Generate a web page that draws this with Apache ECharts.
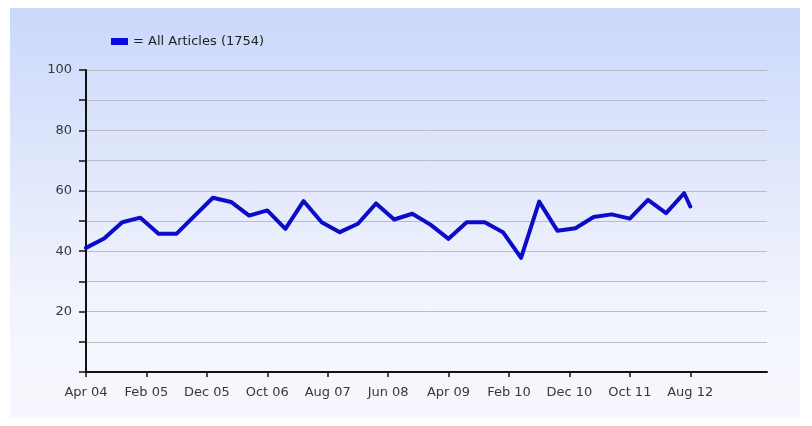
<!DOCTYPE html>
<html>
<head>
<meta charset="utf-8">
<script src="https://cdn.jsdelivr.net/npm/echarts@6/dist/echarts.min.js"></script>
<style>
    html, body { margin: 0; padding: 0; background: #fff; }
    #panel {
        position: absolute; left: 10px; top: 8px; width: 790px; height: 410px;
        background: linear-gradient(#cad8fb 0%, #e4eafc 45%, #f3f5fd 75%, #f7f8fe 100%);
    }
    #chart { position: absolute; left: 0; top: 0; width: 812px; height: 426px; }
</style>
</head>
<body>
<div id="panel"></div>
<div id="chart"></div>
<script>
// quarterly points (last one is a partial period)
const pointDates = ['2004-04','2004-07','2004-10','2005-01','2005-04','2005-07','2005-10','2006-01','2006-04',
    '2006-07','2006-10','2007-01','2007-04','2007-07','2007-10','2008-01','2008-04','2008-07','2008-10',
    '2009-01','2009-04','2009-07','2009-10','2010-01','2010-04','2010-07','2010-10','2011-01','2011-04',
    '2011-07','2011-10','2012-01','2012-04','2012-07','2012-08']
const articleValues = [41.1,44.2,49.6,51.1,45.8,45.8,51.8,57.7,56.3,51.8,53.5,47.4,56.6,49.6,46.3,49.1,55.8,
    50.5,52.4,48.8,44.1,49.6,49.6,46.3,37.8,56.4,46.8,47.6,51.3,52.2,50.8,57.0,52.6,59.2,54.8]

const tickLabels = ['Apr 04','Feb 05','Dec 05','Oct 06','Aug 07','Jun 08','Apr 09','Feb 10','Dec 10','Oct 11','Aug 12']
const tickDates = ['2004-04','2005-02','2005-12','2006-10','2007-08','2008-06','2009-04','2010-02','2010-12','2011-10','2012-08']

const seriesName = 'All Articles (1754)'

// months since Apr 2004
function monthIndex(s){
    var p = s.split('-')
    return (parseInt(p[0]) - 2004) * 12 + (parseInt(p[1]) - 4)
}

const tickMonths = tickDates.map(monthIndex)
const lineData = pointDates.map(function(d, i){ return [monthIndex(d), articleValues[i]] })

const font = 'DejaVu Sans'

var option = {
    backgroundColor: 'transparent',
    animation: false,
    legend: {
        left: 106,
        top: 30,
        icon: 'rect',
        itemWidth: 17,
        itemHeight: 7,
        formatter: function(name){ return '= ' + name },
        textStyle: { color: '#222', fontSize: 13, fontFamily: font },
        data: [{ name: seriesName, itemStyle: { color: '#0a0ae0' } }]
    },
    grid: {
        left: 86, right: 45, top: 70, bottom: 54,
        containLabel: false,
        outerBoundsMode: 'none'
    },
    xAxis: {
        type: 'value',
        min: 0,
        max: 112.7,
        axisLine: { show: true, onZero: false, lineStyle: { color: '#111', width: 2 } },
        axisTick: { show: true, customValues: tickMonths, length: 5, lineStyle: { color: '#111', width: 1.5 } },
        axisLabel: {
            customValues: tickMonths,
            margin: 14,
            color: '#383838',
            fontSize: 13,
            fontFamily: font,
            formatter: function(v){ return tickLabels[tickMonths.indexOf(v)] || '' }
        },
        splitLine: { show: false }
    },
    yAxis: {
        type: 'value',
        min: 0,
        max: 100,
        interval: 10,
        axisLine: { show: true, lineStyle: { color: '#111', width: 2 } },
        axisTick: { show: true, length: 7, lineStyle: { color: '#111', width: 1.5 } },
        axisLabel: {
            margin: 14,
            color: '#383838',
            fontSize: 13,
            fontFamily: font,
            formatter: function(v){ return (v > 0 && v % 20 === 0) ? String(v) : '' }
        },
        splitLine: { show: true, lineStyle: { color: '#bcbcc4', width: 1 } }
    },
    series: [{
        name: seriesName,
        type: 'line',
        data: lineData,
        showSymbol: false,
        symbol: 'none',
        lineStyle: { color: '#0c0cc8', width: 4, join: 'round', cap: 'round' },
        itemStyle: { color: '#0a0ae0' }
    }]
}

var myChart = echarts.init(document.getElementById('chart'))
myChart.setOption(option)
</script>
</body>
</html>
